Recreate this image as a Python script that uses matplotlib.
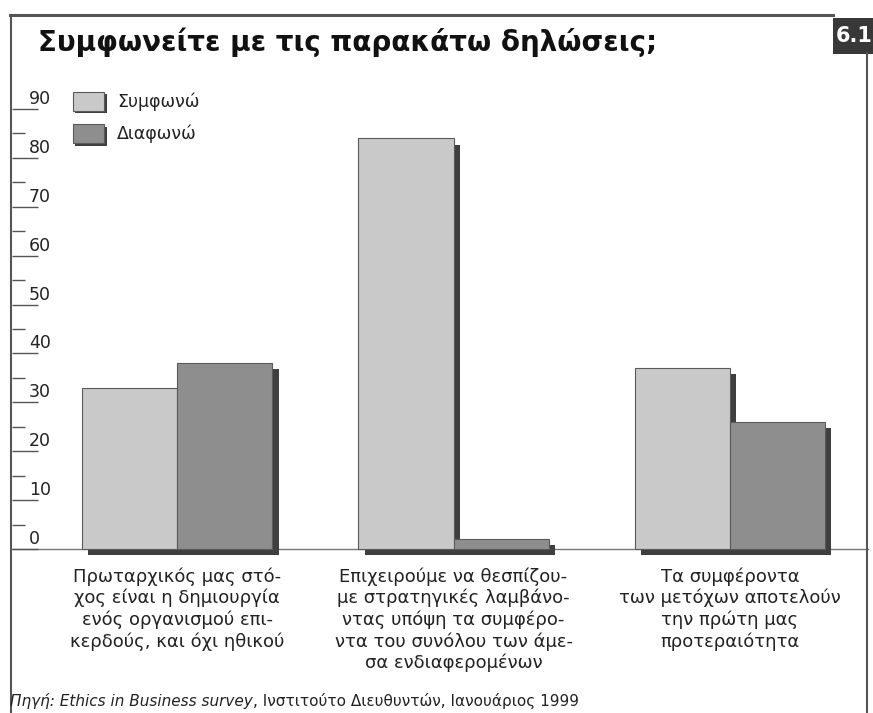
import matplotlib.pyplot as plt
import matplotlib.patheffects as pe
from matplotlib.patches import Patch, Rectangle
from matplotlib.lines import Line2D
import numpy as np

# data
categories = ["Πρωταρχικός μας στό-\nχος είναι η δημιουργία\nενός οργανισμού επι-\nκερδούς, και όχι ηθικού",
              "Επιχειρούμε να θεσπίζου-\nμε στρατηγικές λαμβάνο-\nντας υπόψη τα συμφέρο-\nντα του συνόλου των άμε-\nσα ενδιαφερομένων",
              "Τα συμφέροντα\nτων μετόχων αποτελούν\nτην πρώτη μας\nπροτεραιότητα"]
agree = [33, 84, 37]
disagree = [38, 2, 26]
series_names = ["Συμφωνώ", "Διαφωνώ"]
yticks = [0, 10, 20, 30, 40, 50, 60, 70, 80, 90]
title = "Συμφωνείτε με τις παρακάτω δηλώσεις;"
source_it = "Πηγή: Ethics in Business survey"
source_rest = ", Ινστιτούτο Διευθυντών, Ιανουάριος 1999"

W, H = 873, 713
light = "#c9c9c9"
dark = "#8e8e8e"
shadow = "#3f3f3f"
edge = "#5a5a5a"

fig = plt.figure(figsize=(W / 100, H / 100), dpi=100)
fig.patch.set_facecolor("white")

# axes: left at x=12px, 0 at y=549px, 90 at y=109px
ax = fig.add_axes([12 / W, 1 - 549 / H, (868 - 12) / W, (549 - 85) / H])
ax.set_facecolor("none")
ax.set_ylim(0, 94.9)
ax.set_xlim(-0.598, 2.5)

x = np.arange(len(categories))
bw = 0.344
sh = [pe.SimplePatchShadow(offset=(4.5, -4.5), shadow_rgbFace=shadow, alpha=1.0), pe.Normal()]

b1 = ax.bar(x - bw / 2, agree, bw, color=light, edgecolor=edge, linewidth=0.8,
            clip_on=False, zorder=3)
b2 = ax.bar(x + bw / 2, disagree, bw, color=dark, edgecolor=edge, linewidth=0.8,
            clip_on=False, zorder=4)
for r in list(b1) + list(b2):
    r.set_path_effects(sh)

# spines / ticks
for s in ["top", "right", "left"]:
    ax.spines[s].set_visible(False)
ax.spines["bottom"].set_color("#777777")
ax.spines["bottom"].set_linewidth(1.0)
ax.spines["bottom"].set_zorder(1)

ax.set_yticks(yticks)
ax.set_yticks([v + 5 for v in yticks[:-1]], minor=True)
ax.tick_params(axis="y", which="major", direction="in", length=19, width=1.0,
               color="#555555", labelleft=False)
ax.tick_params(axis="y", which="minor", direction="in", length=9.5, width=1.0,
               color="#555555")
for v in yticks:
    ax.text(17 / (868 - 12), v + 0.2, str(v), transform=ax.get_yaxis_transform(),
            ha="left", va="bottom", fontsize=12.5, color="#222222")

ax.set_xticks(x)
ax.set_xticklabels(categories, fontsize=13, linespacing=1.22, color="#222222")
ax.tick_params(axis="x", length=0, pad=13)

# legend
def swatch(c):
    return Patch(facecolor=c, edgecolor=edge, linewidth=0.8,
                 path_effects=[pe.SimplePatchShadow(offset=(2, -2), shadow_rgbFace=shadow, alpha=1.0), pe.Normal()])

leg = ax.legend(handles=[swatch(light), swatch(dark)],
                labels=series_names, loc="upper left", bbox_to_anchor=(57 / W, 1 - 76 / H),
                bbox_transform=fig.transFigure, frameon=False, fontsize=12.5,
                handlelength=1.8, handleheight=1.3, labelspacing=0.75, handletextpad=0.75)
for t in leg.get_texts():
    t.set_color("#222222")

# frame of the box
fig.add_artist(Line2D([10 / W, 833 / W], [1 - 15 / H, 1 - 15 / H], color="#555555", lw=2.2))
fig.add_artist(Line2D([11 / W, 11 / W], [1 - 15 / H, 0], color="#555555", lw=1.5))
fig.add_artist(Line2D([867 / W, 867 / W], [1 - 53 / H, 0], color="#555555", lw=1.5))
fig.add_artist(Rectangle((833 / W, 1 - 54 / H), 45 / W, 36 / H, transform=fig.transFigure,
                         facecolor="#383838", edgecolor="none"))
fig.text(836 / W, 1 - 36 / H, "6.1", color="white", fontsize=15, fontweight="bold",
         va="center", ha="left")

fig.text(38 / W, 1 - 51 / H, title, fontsize=20, fontweight="heavy", color="#111111",
         ha="left", va="baseline")

t1 = fig.text(10 / W, 1 - 706 / H, source_it, fontsize=11, style="italic",
              color="#222222", ha="left", va="baseline")
ax.annotate(source_rest, xy=(1, 0), xycoords=t1, va="bottom", ha="left",
            fontsize=11, color="#222222", annotation_clip=False)

fig.savefig("out.png", dpi=100)
